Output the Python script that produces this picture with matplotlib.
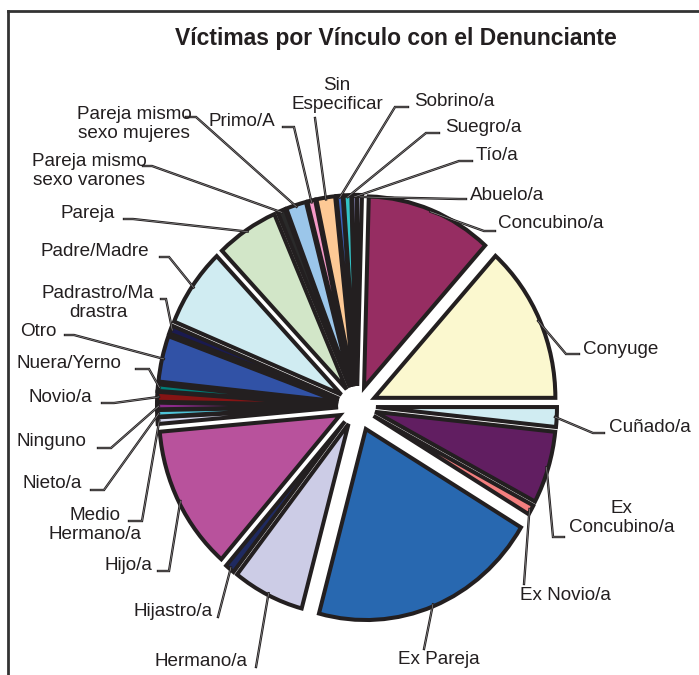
import matplotlib.pyplot as plt
from matplotlib.lines import Line2D
import numpy as np

# Datos (sentido horario desde las 12)
categorias = ["Abuelo/a", "Concubino/a", "Conyuge", "Cuñado/a", "Ex\nConcubino/a",
              "Ex Novio/a", "Ex Pareja", "Hermano/a", "Hijastro/a", "Hijo/a",
              "Medio\nHermano/a", "Nieto/a", "Ninguno", "Novio/a", "Nuera/Yerno",
              "Otro", "Padrastro/Ma\ndrastra", "Padre/Madre", "Pareja",
              "Pareja mismo\nsexo varones", "Pareja mismo\nsexo mujeres", "Primo/A",
              "Sin\nEspecificar", "Sobrino/a", "Suegro/a", "Tío/a"]
victimas = [3, 81, 96, 12, 44, 6, 148, 46, 6, 88, 4, 4, 4, 6, 4,
            28, 5, 48, 40, 5, 13, 5, 12, 4, 5, 3]
colores = ["#c8c8ec", "#962d62", "#fbf8cf", "#d0ecf2", "#611e61",
           "#f47f7f", "#2868b0", "#cccce6", "#1f2a60", "#b8529c",
           "#d8d8f0", "#4fc3d9", "#8b2a8b", "#861414", "#00807a",
           "#3152a6", "#1a1a50", "#d0ecf2", "#d2e6c8",
           "#2a2a2a", "#9bc6ea", "#f59ac8",
           "#fdc995", "#3a62c0", "#33c2c6", "#9a9ad8"]

# Posicion de cada etiqueta (px): x, y, alineacion, codo x, codo y, fin x
etiquetas = [
    (470, 195, "left", 459, 199, 466),
    (498, 224, "left", 484, 231, 495),
    (583, 349, "left", 566, 354, 579),
    (609, 427, "left", 593, 433, 604),
    (622, 518, "center", 553, 537, 564),
    (520, 596, "left", 524, 584, None),
    (398, 660, "left", 424, 649, None),
    (247, 662, "right", 256, 667, None),
    (213, 612, "right", 218, 617, None),
    (152, 566, "right", 169, 571, 158),
    (95, 525, "center", 142, 521, 129),
    (23, 484, "left", 104, 490, 91),
    (16, 442, "left", 111, 448, 98),
    (29, 398, "left", 114, 403, 102),
    (16, 364, "left", 149, 369, 136),
    (20, 331, "left", 74, 335, 65),
    (98, 303, "center", 166, 299, 161),
    (41, 251, "left", 169, 257, 160),
    (60, 214, "left", 133, 219, 124),
    (89, 171, "center", 152, 166, 143),
    (134, 124, "center", 196, 117, 186),
    (208, 121, "left", 294, 127, 283),
    (337, 95, "center", 315, 118, None),
    (414, 101, "left", 395, 107, 408),
    (445, 127, "left", 426, 133, 439),
    (476, 156, "left", 459, 161, 472),
]

W, H = 699, 675
S = 191 / 181  # el grafico original esta algo estirado en vertical
negro = "#231f20"
plt.rcParams['font.family'] = ['Liberation Sans', 'DejaVu Sans']


def px(x, y):
    return x, (H - y) / S


fig = plt.figure(figsize=(W / 100, H / 100), dpi=100)
ax = fig.add_axes([0, 0, 1, 1])

R = 181
cx, cy = px(357, 406)
# la separacion de pie() va en unidades de datos, no en fracciones del radio
explode = [0.13 * R if c == "Ex Pareja" else 0.105 * R for c in categorias]
wedges, _ = ax.pie(victimas, colors=colores, startangle=90, counterclock=False,
                   radius=R, center=(cx, cy), explode=explode,
                   wedgeprops=dict(edgecolor=negro, linewidth=2.9, joinstyle='miter'))
ax.set_aspect('auto')
ax.set_xlim(0, W)
ax.set_ylim(0, H / S)
ax.axis('off')

for w, cat, (tx, ty, ha, ex, ey, hx) in zip(wedges, categorias, etiquetas):
    ang = np.deg2rad((w.theta1 + w.theta2) / 2)
    x0 = w.center[0] + 0.99 * R * np.cos(ang)
    y0 = w.center[1] + 0.99 * R * np.sin(ang)
    xs, ys = [x0], [y0]
    ex_, ey_ = px(ex, ey)
    xs.append(ex_)
    ys.append(ey_)
    if hx is not None:
        xs.append(hx)
        ys.append(ey_)
    # linea guia "doble" como en el original
    ax.plot(xs, ys, color=negro, lw=1.7, solid_joinstyle='miter', zorder=3)
    ax.plot(xs, ys, color="#b0b0b0", lw=0.35, solid_joinstyle='miter', zorder=3)
    ax.text(*px(tx, ty), cat, ha=ha, va='center', fontsize=13.6, color=negro,
            linespacing=1.15, multialignment='center')

ax.text(*px(396, 38), "Víctimas por Vínculo con el Denunciante", ha='center',
        va='center', fontsize=16.5, fontweight='bold', color=negro)

# marco
fig.add_artist(Line2D([7.5 / W, 1], [1 - 10.5 / H, 1 - 10.5 / H], color="#333333", lw=2))
fig.add_artist(Line2D([7.5 / W, 7.5 / W], [0, 1 - 10.5 / H], color="#333333", lw=2))

fig.savefig("out.png", dpi=100)
